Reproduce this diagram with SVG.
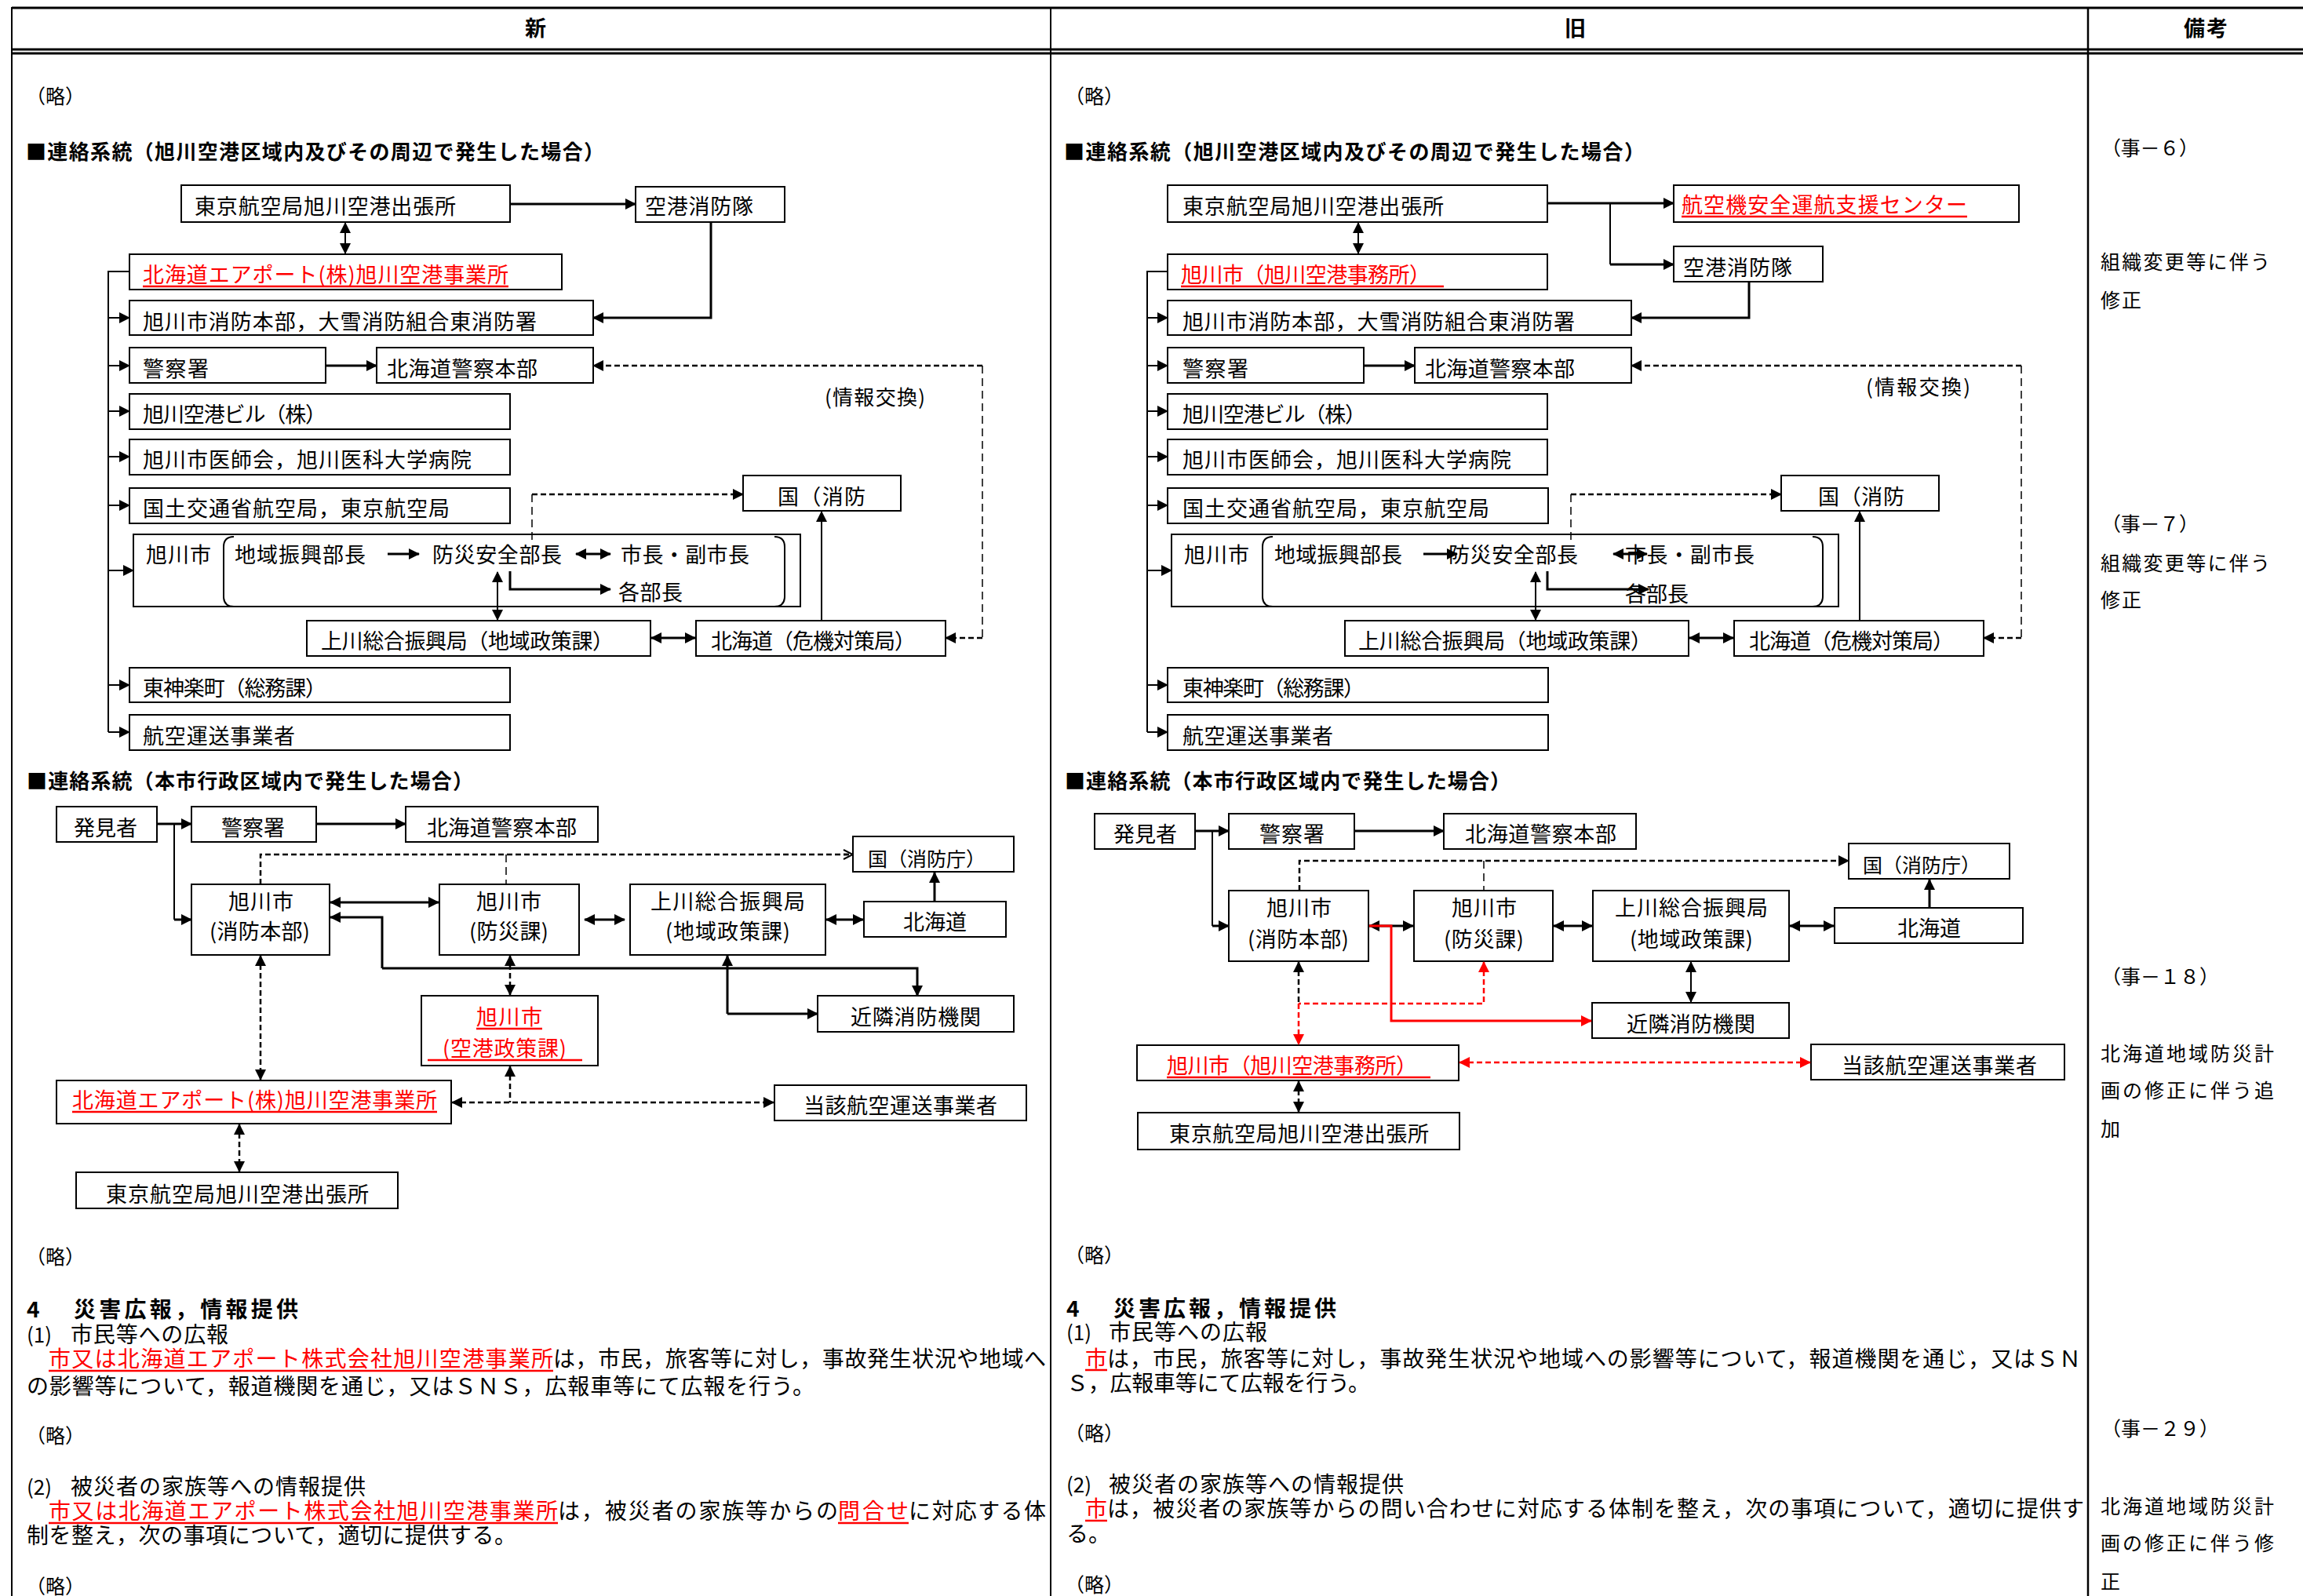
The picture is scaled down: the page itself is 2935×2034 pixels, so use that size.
<svg xmlns="http://www.w3.org/2000/svg" width="2935" height="2034" viewBox="0 0 2935 2034">
<defs>
<style>
.t{font-family:"Noto Sans CJK JP","Noto Sans CJK SC",sans-serif;font-size:27px;fill:#000}
.f28{font-size:28px}
.f26{font-size:26px}
.f25{font-size:25px}
.f24{font-size:24px}
.hb{font-weight:700}
.r{fill:#f00}
.bx{fill:#fff;stroke:#000;stroke-width:2}
.tb{stroke:#000;fill:none}
.L{fill:none;stroke:#000;stroke-width:2}
.Lt{fill:none;stroke:#000;stroke-width:3}
.Lr{fill:none;stroke:#f00;stroke-width:3}
.D{fill:none;stroke:#000;stroke-width:2.5;stroke-dasharray:7 4}
.Dv{fill:none;stroke:#000;stroke-width:1.5;stroke-dasharray:10 6}
.Dr{fill:none;stroke:#f00;stroke-width:2.5;stroke-dasharray:7 4}
.u{stroke:#f00;stroke-width:2.5}
.ae{marker-end:url(#a)}
.ab{marker-start:url(#a);marker-end:url(#a)}
.as{marker-start:url(#a)}
.re{marker-end:url(#ar)}
.rb{marker-start:url(#ar);marker-end:url(#ar)}
.rs{marker-start:url(#ar)}
</style>
<marker id="a" viewBox="0 0 14 14" refX="13" refY="7" markerWidth="14" markerHeight="14" markerUnits="userSpaceOnUse" orient="auto-start-reverse"><path d="M0,0L14,7L0,14z" fill="#000"/></marker>
<marker id="ar" viewBox="0 0 14 14" refX="13" refY="7" markerWidth="14" markerHeight="14" markerUnits="userSpaceOnUse" orient="auto-start-reverse"><path d="M0,0L14,7L0,14z" fill="#f00"/></marker>
<marker id="ao" viewBox="0 0 14 14" refX="13" refY="7" markerWidth="14" markerHeight="14" markerUnits="userSpaceOnUse" orient="auto"><path d="M1,1L13,7L1,13" fill="none" stroke="#000" stroke-width="2"/></marker>
</defs>
<rect width="2935" height="2034" fill="#fff"/>

<g id="table">
<line class="tb" x1="15" y1="10" x2="2935" y2="10" stroke-width="3"/>
<line class="tb" x1="15" y1="63" x2="2935" y2="63" stroke-width="3"/>
<line class="tb" x1="15" y1="68" x2="2935" y2="68" stroke-width="3"/>
<line class="tb" x1="15" y1="9" x2="15" y2="2034" stroke-width="2"/>
<line class="tb" x1="1339" y1="9" x2="1339" y2="2034" stroke-width="2"/>
<line class="tb" x1="2661" y1="9" x2="2661" y2="2034" stroke-width="2.5"/>
<text class="t hb" x="669" y="46">新</text>
<text class="t hb" x="1994" y="46">旧</text>
<text class="t hb" x="2783" y="46" textLength="56">備考</text>
</g>

<g id="remarks">
<text class="t f25" x="2678" y="198" textLength="124">（事－６）</text>
<text class="t f25" x="2677" y="343" textLength="216">組織変更等に伴う</text>
<text class="t f25" x="2677" y="392" textLength="52">修正</text>
<text class="t f25" x="2678" y="677" textLength="124">（事－７）</text>
<text class="t f25" x="2677" y="727" textLength="216">組織変更等に伴う</text>
<text class="t f25" x="2677" y="774" textLength="52">修正</text>
<text class="t f25" x="2678" y="1254" textLength="150">（事－１８）</text>
<text class="t f25" x="2677" y="1352" textLength="221">北海道地域防災計</text>
<text class="t f25" x="2677" y="1399" textLength="221">画の修正に伴う追</text>
<text class="t f25" x="2677" y="1448">加</text>
<text class="t f25" x="2678" y="1830" textLength="150">（事－２９）</text>
<text class="t f25" x="2677" y="1929" textLength="221">北海道地域防災計</text>
<text class="t f25" x="2677" y="1976" textLength="221">画の修正に伴う修</text>
<text class="t f25" x="2677" y="2025">正</text>
</g>

<g id="new-texts">
<text class="t f25" x="33" y="132">（略）</text>
<text class="t f26 hb" x="33" y="203" textLength="737">■連絡系統（旭川空港区域内及びその周辺で発生した場合）</text>
<text class="t f26 hb" x="34" y="1005" textLength="569">■連絡系統（本市行政区域内で発生した場合）</text>
<text class="t f25" x="33" y="1611">（略）</text>
<text class="t f28 hb" x="34" y="1679">4</text>
<text class="t f28 hb" x="94" y="1679" textLength="286">災害広報，情報提供</text>
<text class="t f26" x="34" y="1711">(1)</text>
<text class="t f28" x="90" y="1711" textLength="201">市民等への広報</text>
<text class="t f28 r" x="62" y="1742" textLength="643">市又は北海道エアポート株式会社旭川空港事業所</text>
<line class="u" x1="62" y1="1747" x2="705" y2="1747"/>
<text class="t f28" x="705" y="1742" textLength="628">は，市民，旅客等に対し，事故発生状況や地域へ</text>
<text class="t f28" x="34" y="1777" textLength="1004">の影響等について，報道機関を通じ，又はＳＮＳ，広報車等にて広報を行う。</text>
<text class="t f25" x="33" y="1839">（略）</text>
<text class="t f26" x="34" y="1905">(2)</text>
<text class="t f28" x="90" y="1905" textLength="376">被災者の家族等への情報提供</text>
<text class="t f28 r" x="62" y="1936" textLength="649">市又は北海道エアポート株式会社旭川空港事業所</text>
<line class="u" x1="62" y1="1941" x2="711" y2="1941"/>
<text class="t f28" x="711" y="1936" textLength="357">は，被災者の家族等からの</text>
<text class="t f28 r" x="1068" y="1936" textLength="90">問合せ</text>
<line class="u" x1="1068" y1="1941" x2="1158" y2="1941"/>
<text class="t f28" x="1158" y="1936" textLength="175">に対応する体</text>
<text class="t f28" x="34" y="1967" textLength="624">制を整え，次の事項について，適切に提供する。</text>
<text class="t f25" x="33" y="2031">（略）</text>
</g>

<g id="old-texts">
<text class="t f25" x="1357" y="132">（略）</text>
<text class="t f26 hb" x="1356" y="203" textLength="740">■連絡系統（旭川空港区域内及びその周辺で発生した場合）</text>
<text class="t f26 hb" x="1357" y="1005" textLength="568">■連絡系統（本市行政区域内で発生した場合）</text>
<text class="t f25" x="1357" y="1609">（略）</text>
<text class="t f28 hb" x="1359" y="1678">4</text>
<text class="t f28 hb" x="1419" y="1678" textLength="284">災害広報，情報提供</text>
<text class="t f26" x="1359" y="1708">(1)</text>
<text class="t f28" x="1413" y="1708" textLength="202">市民等への広報</text>
<text class="t f28 r" x="1383" y="1742">市</text>
<line class="u" x1="1383" y1="1746" x2="1411" y2="1746"/>
<text class="t f28" x="1411" y="1742" textLength="1241">は，市民，旅客等に対し，事故発生状況や地域への影響等について，報道機関を通じ，又はＳＮ</text>
<text class="t f28" x="1359" y="1773" textLength="387">Ｓ，広報車等にて広報を行う。</text>
<text class="t f25" x="1357" y="1836">（略）</text>
<text class="t f26" x="1359" y="1902">(2)</text>
<text class="t f28" x="1413" y="1902" textLength="376">被災者の家族等への情報提供</text>
<text class="t f28 r" x="1383" y="1933">市</text>
<line class="u" x1="1383" y1="1938" x2="1411" y2="1938"/>
<text class="t f28" x="1411" y="1933" textLength="1245">は，被災者の家族等からの問い合わせに対応する体制を整え，次の事項について，適切に提供す</text>
<text class="t f28" x="1359" y="1965">る。</text>
<text class="t f25" x="1357" y="2029">（略）</text>
</g>

<!-- ===== NEW top diagram nodes ===== -->
<g id="n-tokyo"><rect class="bx" x="231" y="236" width="419" height="47"/><text class="t" x="248" y="273" textLength="333">東京航空局旭川空港出張所</text></g>
<g id="n-kuko-shobo"><rect class="bx" x="810" y="238" width="190" height="45"/><text class="t" x="822" y="273" textLength="138">空港消防隊</text></g>
<g id="n-airport"><rect class="bx" x="165" y="324" width="551" height="45"/><text class="t r" x="182" y="360" textLength="466">北海道エアポート(株)旭川空港事業所</text><line class="u" x1="182" y1="365" x2="648" y2="365"/></g>
<g id="n-shobo"><rect class="bx" x="165" y="383" width="591" height="44"/><text class="t" x="182" y="420" textLength="502">旭川市消防本部，大雪消防組合東消防署</text></g>
<g id="n-keisatsu"><rect class="bx" x="165" y="443" width="250" height="45"/><text class="t" x="182" y="480" textLength="84">警察署</text></g>
<g id="n-dokei"><rect class="bx" x="480" y="443" width="276" height="45"/><text class="t" x="493" y="480" textLength="192">北海道警察本部</text></g>
<g id="n-building"><rect class="bx" x="165" y="502" width="485" height="45"/><text class="t" x="182" y="538" textLength="234">旭川空港ビル（株）</text></g>
<g id="n-ishikai"><rect class="bx" x="165" y="560" width="485" height="45"/><text class="t" x="182" y="596" textLength="419">旭川市医師会，旭川医科大学病院</text></g>
<g id="n-kokudo"><rect class="bx" x="165" y="622" width="485" height="45"/><text class="t" x="182" y="658" textLength="391">国土交通省航空局，東京航空局</text></g>
<g id="n-kuni"><rect class="bx" x="947" y="606" width="201" height="45"/><text class="t" x="991" y="643" textLength="112">国（消防</text></g>
<g id="n-asahikawa"><rect class="bx" x="170" y="681" width="850" height="92"/>
<path class="L" d="M298,684Q285,684 285,697V760Q285,773 298,773"/><path class="L" d="M987,684Q1000,684 1000,697V760Q1000,773 987,773"/>
<text class="t" x="186" y="717" textLength="83">旭川市</text>
<text class="t" x="299" y="717" textLength="167">地域振興部長</text>
<text class="t" x="551" y="717" textLength="165">防災安全部長</text>
<text class="t" x="791" y="717" textLength="164">市長・副市長</text>
<text class="t" x="788" y="765" textLength="82">各部長</text></g>
<g id="n-kamikawa"><rect class="bx" x="391" y="791" width="438" height="45"/><text class="t" x="409" y="827" textLength="373">上川総合振興局（地域政策課）</text></g>
<g id="n-hokkaido"><rect class="bx" x="887" y="791" width="318" height="45"/><text class="t" x="906" y="827" textLength="261">北海道（危機対策局）</text></g>
<g id="n-higashikagura"><rect class="bx" x="165" y="851" width="485" height="44"/><text class="t" x="182" y="887" textLength="234">東神楽町（総務課）</text></g>
<g id="n-koku-unso"><rect class="bx" x="165" y="911" width="485" height="45"/><text class="t" x="182" y="948" textLength="194">航空運送事業者</text></g>
<text class="t f26" x="1051" y="516" textLength="128">(情報交換)</text>

<!-- ===== OLD top diagram nodes ===== -->
<g id="o-tokyo"><rect class="bx" x="1488" y="236" width="484" height="47"/><text class="t" x="1507" y="273" textLength="333">東京航空局旭川空港出張所</text></g>
<g id="o-center"><rect class="bx" x="2133" y="236" width="440" height="47"/><text class="t r" x="2143" y="271" textLength="364">航空機安全運航支援センター</text><line class="u" x1="2143" y1="276" x2="2507" y2="276"/></g>
<g id="o-kuko-shobo"><rect class="bx" x="2133" y="314" width="190" height="45"/><text class="t" x="2145" y="351" textLength="139">空港消防隊</text></g>
<g id="o-jimusho"><rect class="bx" x="1488" y="324" width="484" height="45"/><text class="t r" x="1505" y="360" textLength="318">旭川市（旭川空港事務所）</text><line class="u" x1="1505" y1="365" x2="1840" y2="365"/></g>
<g id="o-shobo"><rect class="bx" x="1488" y="383" width="591" height="44"/><text class="t" x="1507" y="420" textLength="500">旭川市消防本部，大雪消防組合東消防署</text></g>
<g id="o-keisatsu"><rect class="bx" x="1488" y="443" width="250" height="45"/><text class="t" x="1507" y="480" textLength="84">警察署</text></g>
<g id="o-dokei"><rect class="bx" x="1803" y="443" width="276" height="45"/><text class="t" x="1816" y="480" textLength="191">北海道警察本部</text></g>
<g id="o-building"><rect class="bx" x="1488" y="502" width="484" height="45"/><text class="t" x="1507" y="538" textLength="234">旭川空港ビル（株）</text></g>
<g id="o-ishikai"><rect class="bx" x="1488" y="560" width="484" height="45"/><text class="t" x="1507" y="596" textLength="419">旭川市医師会，旭川医科大学病院</text></g>
<g id="o-kokudo"><rect class="bx" x="1488" y="622" width="485" height="45"/><text class="t" x="1507" y="658" textLength="391">国土交通省航空局，東京航空局</text></g>
<g id="o-kuni"><rect class="bx" x="2270" y="606" width="201" height="45"/><text class="t" x="2317" y="643" textLength="110">国（消防</text></g>
<g id="o-asahikawa"><rect class="bx" x="1493" y="681" width="850" height="92"/>
<path class="L" d="M1622,684Q1609,684 1609,697V760Q1609,773 1622,773"/><path class="L" d="M2310,684Q2323,684 2323,697V760Q2323,773 2310,773"/>
<text class="t" x="1509" y="717" textLength="83">旭川市</text>
<text class="t" x="1624" y="717" textLength="163">地域振興部長</text>
<text class="t" x="1846" y="717" textLength="165">防災安全部長</text>
<text class="t" x="2071" y="717" textLength="165">市長・副市長</text>
<text class="t" x="2071" y="767" textLength="81">各部長</text></g>
<g id="o-kamikawa"><rect class="bx" x="1714" y="791" width="438" height="45"/><text class="t" x="1731" y="827" textLength="374">上川総合振興局（地域政策課）</text></g>
<g id="o-hokkaido"><rect class="bx" x="2210" y="791" width="318" height="45"/><text class="t" x="2229" y="827" textLength="261">北海道（危機対策局）</text></g>
<g id="o-higashikagura"><rect class="bx" x="1488" y="851" width="485" height="44"/><text class="t" x="1507" y="887" textLength="232">東神楽町（総務課）</text></g>
<g id="o-koku-unso"><rect class="bx" x="1488" y="911" width="485" height="45"/><text class="t" x="1507" y="948" textLength="192">航空運送事業者</text></g>
<text class="t f26" x="2378" y="503" textLength="133">(情報交換)</text>

<!-- ===== NEW bottom diagram nodes ===== -->
<g id="nb-hakkensha"><rect class="bx" x="72" y="1028" width="128" height="45"/><text class="t" x="94" y="1065" textLength="81">発見者</text></g>
<g id="nb-keisatsu"><rect class="bx" x="244" y="1028" width="159" height="45"/><text class="t" x="282" y="1065" textLength="81">警察署</text></g>
<g id="nb-dokei"><rect class="bx" x="517" y="1028" width="245" height="45"/><text class="t" x="544" y="1065" textLength="191">北海道警察本部</text></g>
<g id="nb-kuni"><rect class="bx" x="1087" y="1066" width="205" height="45"/><text class="t f25" x="1106" y="1104" textLength="150">国（消防庁）</text></g>
<g id="nb-shobo"><rect class="bx" x="244" y="1127" width="176" height="90"/><text class="t" x="291" y="1159" textLength="83">旭川市</text><text class="t" x="267" y="1197" textLength="128">(消防本部)</text></g>
<g id="nb-bosai"><rect class="bx" x="560" y="1127" width="178" height="90"/><text class="t" x="607" y="1159" textLength="83">旭川市</text><text class="t" x="598" y="1197" textLength="101">(防災課)</text></g>
<g id="nb-kamikawa"><rect class="bx" x="803" y="1127" width="249" height="90"/><text class="t" x="829" y="1159" textLength="197">上川総合振興局</text><text class="t" x="848" y="1197" textLength="159">(地域政策課)</text></g>
<g id="nb-hokkaido"><rect class="bx" x="1101" y="1149" width="181" height="45"/><text class="t" x="1151" y="1185" textLength="81">北海道</text></g>
<g id="nb-kinrin"><rect class="bx" x="1042" y="1269" width="250" height="46"/><text class="t" x="1084" y="1306" textLength="166">近隣消防機関</text></g>
<g id="nb-kukoseisaku"><rect class="bx" x="537" y="1269" width="225" height="89"/><text class="t r" x="607" y="1306" textLength="84">旭川市</text><line class="u" x1="607" y1="1311" x2="691" y2="1311"/><text class="t r" x="564" y="1346" textLength="158">(空港政策課)</text><line class="u" x1="545" y1="1351" x2="742" y2="1351"/></g>
<g id="nb-airport"><rect class="bx" x="72" y="1377" width="503" height="55"/><text class="t r" x="92" y="1412" textLength="465">北海道エアポート(株)旭川空港事業所</text><line class="u" x1="92" y1="1417" x2="557" y2="1417"/></g>
<g id="nb-unso"><rect class="bx" x="987" y="1383" width="321" height="45"/><text class="t" x="1024" y="1419" textLength="247">当該航空運送事業者</text></g>
<g id="nb-tokyo"><rect class="bx" x="97" y="1494" width="410" height="46"/><text class="t" x="135" y="1532" textLength="335">東京航空局旭川空港出張所</text></g>

<!-- ===== OLD bottom diagram nodes ===== -->
<g id="ob-hakkensha"><rect class="bx" x="1395" y="1037" width="128" height="45"/><text class="t" x="1419" y="1073" textLength="81">発見者</text></g>
<g id="ob-keisatsu"><rect class="bx" x="1566" y="1037" width="160" height="45"/><text class="t" x="1605" y="1073" textLength="83">警察署</text></g>
<g id="ob-dokei"><rect class="bx" x="1840" y="1037" width="245" height="45"/><text class="t" x="1867" y="1073" textLength="193">北海道警察本部</text></g>
<g id="ob-kuni"><rect class="bx" x="2356" y="1075" width="205" height="45"/><text class="t f25" x="2374" y="1112" textLength="150">国（消防庁）</text></g>
<g id="ob-shobo"><rect class="bx" x="1566" y="1135" width="178" height="90"/><text class="t" x="1614" y="1167" textLength="83">旭川市</text><text class="t" x="1590" y="1207" textLength="129">(消防本部)</text></g>
<g id="ob-bosai"><rect class="bx" x="1802" y="1135" width="177" height="90"/><text class="t" x="1850" y="1167" textLength="83">旭川市</text><text class="t" x="1840" y="1207" textLength="102">(防災課)</text></g>
<g id="ob-kamikawa"><rect class="bx" x="2030" y="1135" width="250" height="90"/><text class="t" x="2058" y="1167" textLength="195">上川総合振興局</text><text class="t" x="2077" y="1207" textLength="157">(地域政策課)</text></g>
<g id="ob-hokkaido"><rect class="bx" x="2338" y="1157" width="240" height="45"/><text class="t" x="2418" y="1193" textLength="81">北海道</text></g>
<g id="ob-kinrin"><rect class="bx" x="2029" y="1278" width="251" height="45"/><text class="t" x="2073" y="1315" textLength="164">近隣消防機関</text></g>
<g id="ob-jimusho"><rect class="bx" x="1449" y="1332" width="410" height="45"/><text class="t r" x="1487" y="1368" textLength="319">旭川市（旭川空港事務所）</text><line class="u" x1="1487" y1="1373" x2="1823" y2="1373"/></g>
<g id="ob-unso"><rect class="bx" x="2308" y="1331" width="323" height="45"/><text class="t" x="2347" y="1368" textLength="249">当該航空運送事業者</text></g>
<g id="ob-tokyo"><rect class="bx" x="1450" y="1418" width="410" height="47"/><text class="t" x="1490" y="1455" textLength="331">東京航空局旭川空港出張所</text></g>

<!-- ===== connectors ===== -->
<g id="new-top-connectors">
<path class="L" d="M165,346H138V933"/>
<path class="L ae" d="M138,405H165"/>
<path class="L ae" d="M138,466H165"/>
<path class="L ae" d="M138,524H165"/>
<path class="L ae" d="M138,582H165"/>
<path class="L ae" d="M138,644H165"/>
<path class="L ae" d="M138,727H170"/>
<path class="L ae" d="M138,873H165"/>
<path class="L ae" d="M138,933H165"/>
<path class="Lt ae" d="M650,260H810"/>
<path class="L ab" d="M440,284V323"/>
<path class="Lt ae" d="M906,283V405H756"/>
<path class="Lt ae" d="M415,466H480"/>
<path class="D ae" d="M1252,466H756"/>
<path class="Dv" d="M1252,466V813"/>
<path class="D ae" d="M1252,813H1205"/>
<path class="Dv" d="M678,688V630"/>
<path class="D ae" d="M678,630H947"/>
<path class="Lt ae" d="M494,706H534"/>
<path class="Lt ab" d="M734,706H778"/>
<path class="Lt ae" d="M650,728V751H778"/>
<path class="L ab" d="M634,729V790"/>
<path class="Lt ab" d="M830,813H886"/>
<path class="L ae" d="M1047,791V652"/>
</g>
<g id="old-top-connectors">
<path class="L" d="M1488,346H1462V933"/>
<path class="L ae" d="M1462,405H1488"/>
<path class="L ae" d="M1462,466H1488"/>
<path class="L ae" d="M1462,524H1488"/>
<path class="L ae" d="M1462,582H1488"/>
<path class="L ae" d="M1462,644H1488"/>
<path class="L ae" d="M1462,727H1493"/>
<path class="L ae" d="M1462,873H1488"/>
<path class="L ae" d="M1462,933H1488"/>
<path class="Lt ae" d="M1972,259H2133"/>
<path class="L" d="M2052,259V337"/>
<path class="Lt ae" d="M2052,337H2133"/>
<path class="L ab" d="M1731,284V323"/>
<path class="Lt ae" d="M2229,359V405H2079"/>
<path class="Lt ae" d="M1738,466H1803"/>
<path class="D ae" d="M2576,466H2079"/>
<path class="Dv" d="M2576,466V813"/>
<path class="D ae" d="M2576,813H2528"/>
<path class="Dv" d="M2002,688V630"/>
<path class="D ae" d="M2002,630H2270"/>
<path class="Lt ae" d="M1814,706H1857"/>
<path class="Lt ab" d="M2056,706H2099"/>
<path class="Lt ae" d="M1972,728V751H2101"/>
<path class="L ab" d="M1957,729V790"/>
<path class="Lt ab" d="M2153,813H2209"/>
<path class="L ae" d="M2370,791V652"/>
</g>
<g id="new-bottom-connectors">
<path class="Lt ae" d="M200,1050H244"/>
<path class="Lt ae" d="M403,1050H517"/>
<path class="L" d="M222,1050V1172"/>
<path class="Lt ae" d="M222,1172H244"/>
<path class="D" d="M332,1127V1089H1085"/>
<path class="D" d="M1075,1089H1087" style="marker-end:url(#ao)"/>
<path class="Dv" d="M645,1089V1127"/>
<path class="Lt ab" d="M421,1150H559"/>
<path class="Lt ae" d="M487,1234V1169H421"/>
<path class="Lt ae" d="M487,1234H1169V1269"/>
<path class="Lt ab" d="M745,1172H796"/>
<path class="Lt ab" d="M1053,1172H1100"/>
<path class="Lt ae" d="M1191,1149V1112"/>
<path class="Lt as" d="M927,1218V1292"/>
<path class="Lt ae" d="M927,1292H1042"/>
<path class="D ab" d="M650,1218V1268"/>
<path class="D ab" d="M332,1218V1376"/>
<path class="D ab" d="M576,1405H986"/>
<path class="D as" d="M650,1359V1405"/>
<path class="D ab" d="M305,1433V1493"/>
</g>
<g id="old-bottom-connectors">
<path class="Lt ae" d="M1523,1059H1566"/>
<path class="Lt ae" d="M1726,1059H1840"/>
<path class="L" d="M1545,1059V1180"/>
<path class="Lt ae" d="M1545,1180H1566"/>
<path class="D ae" d="M1656,1135V1097H2356"/>
<path class="Dv" d="M1891,1097V1135"/>
<path class="Lt ab" d="M1745,1180H1801"/>
<path class="Lt ab" d="M1980,1180H2029"/>
<path class="Lt ab" d="M2281,1180H2337"/>
<path class="Lt ae" d="M2459,1157V1121"/>
<path class="L ab" d="M2155,1226V1277"/>
<path class="Lr re" d="M1745,1180H1773V1301H2028"/>
<path class="Dr rs" d="M1891,1226V1279H1655"/>
<path class="D as" d="M1655,1226V1279"/>
<path class="Dr re" d="M1655,1279V1331"/>
<path class="Dr rb" d="M1860,1354H2307"/>
<path class="D ab" d="M1655,1378V1417"/>
</g>
</svg>
